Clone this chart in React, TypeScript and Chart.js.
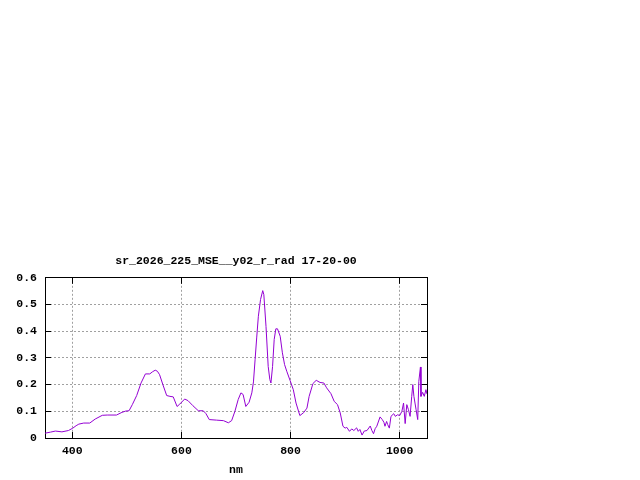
import { useEffect, useRef } from "react"
import { Chart, registerables } from "chart.js"

Chart.register(...registerables)

const title = "sr_2026_225_MSE__y02_r_rad 17-20-00"

// wavelength (nm) and radiance
const wavelengths = [
  350, 360, 369, 381, 393, 401, 407, 412, 421, 432, 442, 455, 464, 481, 491, 498, 504, 510, 518, 526,
  534, 542, 547, 552, 556, 560, 566, 573, 579, 585, 592, 597, 606, 612, 621, 631, 640, 645, 651, 664,
  677, 686, 692, 698, 704, 709, 713, 718, 724, 729, 732, 735, 738, 741, 745, 749, 751, 755, 759, 762,
  764, 767, 770, 773, 776, 781, 785, 789, 793, 799, 805, 810, 817, 824, 830, 834, 841, 847, 854, 861,
  866, 874, 880, 886, 891, 896, 900, 903, 908, 912, 916, 921, 924, 927, 931, 935, 940, 946, 949, 952,
  955, 958, 964, 968, 971, 973, 976, 978, 981, 984, 989, 992, 996, 1000, 1004, 1007, 1010, 1013, 1016, 1019,
  1022, 1024, 1026, 1028, 1030, 1033, 1035, 1038, 1039, 1042, 1045, 1048, 1050,
]
const radiance = [
  0.018, 0.022, 0.026, 0.023, 0.028, 0.037, 0.046, 0.052, 0.056, 0.056, 0.071, 0.085, 0.086, 0.086, 0.096, 0.101, 0.102, 0.125, 0.159, 0.206,
  0.24, 0.24, 0.248, 0.254, 0.25, 0.237, 0.2, 0.159, 0.156, 0.154, 0.118, 0.127, 0.146, 0.14, 0.121, 0.102, 0.102, 0.091, 0.069, 0.067,
  0.065, 0.057, 0.065, 0.1, 0.144, 0.169, 0.163, 0.118, 0.134, 0.169, 0.21, 0.294, 0.378, 0.456, 0.519, 0.552, 0.537, 0.418, 0.268, 0.219,
  0.206, 0.268, 0.369, 0.409, 0.409, 0.381, 0.319, 0.275, 0.25, 0.216, 0.181, 0.131, 0.084, 0.095, 0.112, 0.156, 0.204, 0.216, 0.208, 0.206,
  0.188, 0.166, 0.137, 0.125, 0.094, 0.044, 0.037, 0.04, 0.025, 0.034, 0.028, 0.038, 0.025, 0.032, 0.011, 0.026, 0.028, 0.045, 0.028, 0.016,
  0.035, 0.044, 0.079, 0.069, 0.059, 0.044, 0.062, 0.05, 0.037, 0.081, 0.091, 0.081, 0.087, 0.084, 0.1, 0.131, 0.054, 0.125, 0.106, 0.081,
  0.156, 0.2, 0.156, 0.131, 0.106, 0.069, 0.212, 0.266, 0.156, 0.171, 0.156, 0.181, 0.165,
]

const xTicks = [400, 600, 800, 1000]
const yTicks = ["0", "0.1", "0.2", "0.3", "0.4", "0.5", "0.6"]

const font = { family: "'Liberation Mono', 'DejaVu Sans Mono', monospace", size: 11.5, weight: "bold" as const }
const tickLen = -6

export default function App() {
  const chartRef = useRef<HTMLCanvasElement>(null)
  const chartInstance = useRef<Chart | null>(null)

  useEffect(() => {
    if (!chartRef.current) return
    const ctx = chartRef.current.getContext("2d")
    if (!ctx) return
    if (chartInstance.current) chartInstance.current.destroy()

    const setXTicks = (scale: any) => {
      scale.ticks = xTicks.map((v) => ({ value: v }))
    }
    // mirrored axes: only inward tick marks, no labels
    const mirrorGrid = {
      drawOnChartArea: false,
      drawTicks: true,
      tickLength: tickLen,
      tickColor: "#000",
      tickBorderDash: [],
    }
    const mainGrid = {
      color: "#a0a0a0",
      drawTicks: true,
      tickLength: tickLen,
      tickColor: "#000",
      tickBorderDash: [],
    }
    const border = { display: true, color: "#000", width: 1, dash: [2, 2] }

    chartInstance.current = new Chart(ctx, {
      type: "line",
      data: {
        datasets: [
          {
            data: wavelengths.map((w, i) => ({ x: w, y: radiance[i] })),
            borderColor: "#9400d3",
            borderWidth: 1,
            pointRadius: 0,
            tension: 0,
            fill: false,
          },
        ],
      },
      options: {
        animation: false,
        responsive: false,
        devicePixelRatio: 1,
        layout: { padding: { left: 0, right: 213, top: 0, bottom: 0 } },
        scales: {
          x: {
            type: "linear",
            position: "bottom",
            min: 350,
            max: 1050,
            afterBuildTicks: setXTicks,
            afterFit: (scale: any) => {
              scale.height = 42
            },
            grid: mainGrid,
            border,
            ticks: { color: "#000", font, padding: 12, maxRotation: 0, callback: (v: any) => String(v) },
            title: { display: true, text: "nm", color: "#000", font, padding: { top: 0, bottom: 3 } },
          },
          x2: {
            type: "linear",
            position: "top",
            min: 350,
            max: 1050,
            afterBuildTicks: setXTicks,
            afterFit: (scale: any) => {
              scale.height = 0
            },
            grid: mirrorGrid,
            border,
            ticks: { display: false },
          },
          y: {
            type: "linear",
            position: "left",
            min: 0,
            max: 0.6,
            afterFit: (scale: any) => {
              scale.width = 45
            },
            grid: mainGrid,
            border,
            ticks: {
              stepSize: 0.1,
              color: "#000",
              font,
              padding: 14,
              callback: (_v: any, i: number) => yTicks[i],
            },
          },
          y2: {
            type: "linear",
            position: "right",
            min: 0,
            max: 0.6,
            afterFit: (scale: any) => {
              scale.width = 0
            },
            grid: mirrorGrid,
            border,
            ticks: { display: false, stepSize: 0.1 },
          },
        },
        plugins: {
          legend: { display: false },
          tooltip: { enabled: false },
          title: {
            display: true,
            text: title,
            color: "#000",
            font,
            fullSize: false,
            padding: { top: 254, bottom: 10 },
          },
        },
      },
    })

    return () => {
      if (chartInstance.current) {
        chartInstance.current.destroy()
        chartInstance.current = null
      }
    }
  }, [])

  return (
    <div style={{ position: "fixed", left: 0, top: 0, width: "640px", height: "480px", background: "#fff" }}>
      <canvas ref={chartRef} width={640} height={480}></canvas>
    </div>
  )
}
